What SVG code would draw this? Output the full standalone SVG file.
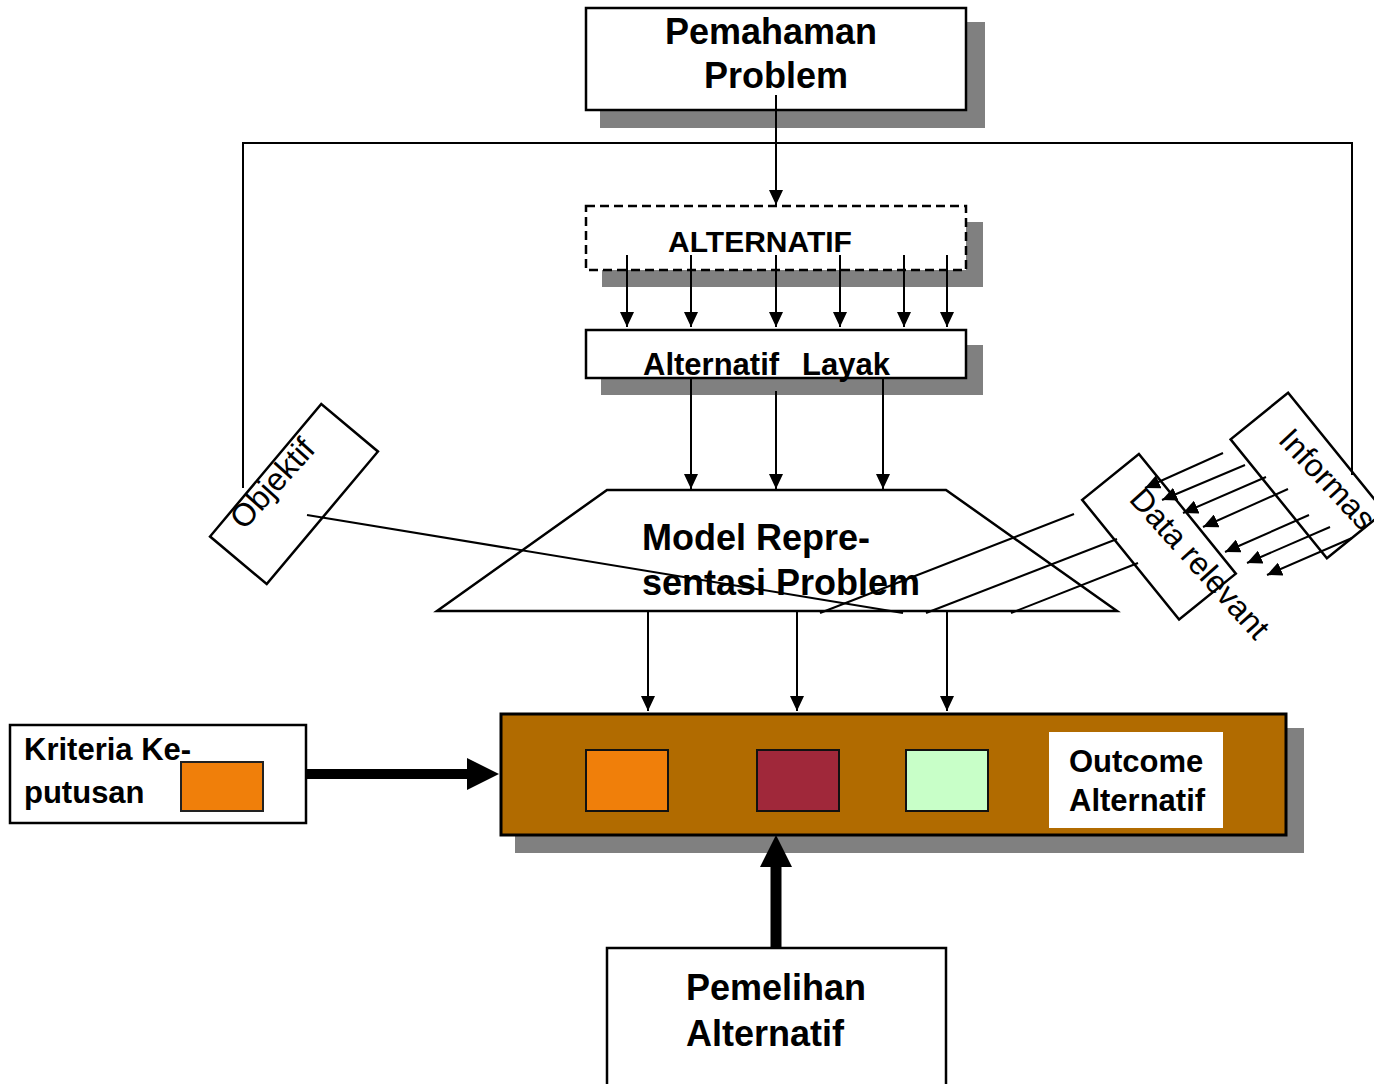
<svg xmlns="http://www.w3.org/2000/svg" width="1374" height="1084" viewBox="0 0 1374 1084">
  <style>
    .box { fill: #ffffff; stroke: #000000; stroke-width: 2.5; }
    .shadow { fill: #808080; stroke: none; }
    .lbl { font-family: "Liberation Sans", Arial, sans-serif; font-weight: bold; fill: #000000; }
    .rot { font-family: "Liberation Sans", Arial, sans-serif; font-size: 32px; fill: #000000; }
    .wire { fill: none; stroke: #000000; stroke-width: 2; }
    .arr { fill: none; stroke: #000000; stroke-width: 2; marker-end: url(#ah); }
    .fat { fill: none; stroke: #000000; }
  </style>
  <defs>
    <marker id="ah" viewBox="0 0 15 14" refX="15" refY="7" markerWidth="15" markerHeight="14" orient="auto" markerUnits="userSpaceOnUse">
      <path d="M0,0 L15,7 L0,14 z" fill="#000000"/>
    </marker>
    <marker id="bigah" viewBox="0 0 32 32" refX="0" refY="16" markerWidth="32" markerHeight="32" orient="auto" markerUnits="userSpaceOnUse">
      <path d="M0,0 L32,16 L0,32 z" fill="#000000"/>
    </marker>
  </defs>

  <rect width="1374" height="1084" fill="#ffffff"/>

  <!-- Problem understanding -->
  <g id="pemahaman">
    <rect class="shadow" x="600" y="22" width="385" height="106"/>
    <rect class="box" x="586" y="8" width="380" height="102"/>
    <text class="lbl" font-size="36" x="771" y="44" text-anchor="middle">Pemahaman</text>
    <text class="lbl" font-size="36" x="776" y="88" text-anchor="middle">Problem</text>
  </g>

  <!-- Alternatives (dashed) -->
  <g id="alternatif">
    <rect class="shadow" x="602" y="222" width="381" height="65"/>
    <rect x="586" y="206" width="380" height="64" fill="#ffffff" stroke="#000000" stroke-width="2.5" stroke-dasharray="9,5"/>
    <text class="lbl" font-size="30" x="760" y="252" text-anchor="middle">ALTERNATIF</text>
  </g>

  <!-- Feasible alternatives -->
  <g id="alternatif-layak">
    <rect class="shadow" x="601" y="345" width="382" height="50"/>
    <rect class="box" x="586" y="330" width="380" height="48"/>
    <text class="lbl" font-size="31" y="375"><tspan x="643">Alternatif</tspan><tspan x="802">Layak</tspan></text>
  </g>

  <!-- Problem representation model -->
  <g id="model">
    <path d="M607,490 L946,490 L1117,611 L437,611 z" fill="#ffffff" stroke="#000000" stroke-width="2.5"/>
    <text class="lbl" font-size="36" x="642" y="550">Model Repre-</text>
    <text class="lbl" font-size="36" x="642" y="595">sentasi Problem</text>
  </g>

  <!-- Objective -->
  <g id="objektif">
    <rect x="-86.5" y="-37" width="173" height="74" fill="#ffffff" stroke="#000000" stroke-width="2.5" transform="translate(294,494) rotate(-50)"/>
    <text class="rot" font-size="33" transform="translate(244,531) rotate(-48)">Objektif</text>
  </g>

  <!-- Information -->
  <g id="informasi">
    <rect x="-76.5" y="-37" width="153" height="74" fill="#ffffff" stroke="#000000" stroke-width="2.5" transform="translate(1307.5,475.5) rotate(51)"/>
    <text class="rot" transform="translate(1277,441) rotate(47)">Informas</text>
  </g>

  <!-- Relevant data -->
  <g id="data-relevant">
    <rect x="-77" y="-36.5" width="154" height="73" fill="#ffffff" stroke="#000000" stroke-width="2.5" transform="translate(1159,536.7) rotate(51)"/>
    <text class="rot" transform="translate(1128,500) rotate(48)">Data relevant</text>
  </g>

  <!-- Decision criteria -->
  <g id="kriteria">
    <rect class="box" x="10" y="725" width="296" height="98"/>
    <text class="lbl" font-size="31" x="24" y="760">Kriteria Ke-</text>
    <text class="lbl" font-size="31" x="24" y="803">putusan</text>
    <rect x="181" y="762" width="82" height="49" fill="#F07F0A" stroke="#222222" stroke-width="2"/>
  </g>

  <!-- Alternative outcomes -->
  <g id="outcome">
    <rect class="shadow" x="515" y="728" width="789" height="125"/>
    <rect x="501" y="714" width="785" height="121" fill="#B16B00" stroke="#000000" stroke-width="3"/>
    <rect x="586" y="750" width="82" height="61" fill="#F07F0A" stroke="#111111" stroke-width="2"/>
    <rect x="757" y="750" width="82" height="61" fill="#A0283A" stroke="#111111" stroke-width="2"/>
    <rect x="906" y="750" width="82" height="61" fill="#C8FFC8" stroke="#111111" stroke-width="2"/>
    <rect x="1049" y="732" width="174" height="96" fill="#ffffff"/>
    <text class="lbl" font-size="31" x="1069" y="772">Outcome</text>
    <text class="lbl" font-size="31" x="1069" y="811">Alternatif</text>
  </g>

  <!-- Choosing an alternative -->
  <g id="pemelihan">
    <rect class="box" x="607" y="948" width="339" height="150"/>
    <text class="lbl" font-size="36" x="686" y="1000">Pemelihan</text>
    <text class="lbl" font-size="36" x="686" y="1046">Alternatif</text>
  </g>

  <!-- Connectors -->
  <g id="connectors">
    <line class="arr" x1="776" y1="95" x2="776" y2="205"/>
    <polyline class="wire" points="243,488 243,143 1352,143 1352,475"/>

    <line class="arr" x1="627" y1="255" x2="627" y2="327"/>
    <line class="arr" x1="691" y1="255" x2="691" y2="327"/>
    <line class="arr" x1="776" y1="255" x2="776" y2="327"/>
    <line class="arr" x1="840" y1="255" x2="840" y2="327"/>
    <line class="arr" x1="904" y1="255" x2="904" y2="327"/>
    <line class="arr" x1="947" y1="255" x2="947" y2="327"/>

    <line class="arr" x1="691" y1="378" x2="691" y2="489"/>
    <line class="arr" x1="776" y1="391" x2="776" y2="489"/>
    <line class="arr" x1="883" y1="378" x2="883" y2="489"/>

    <line class="wire" x1="307" y1="515" x2="903" y2="613"/>

    <line class="arr" x1="1223" y1="453" x2="1145" y2="488"/>
    <line class="arr" x1="1245" y1="465" x2="1162" y2="500"/>
    <line class="arr" x1="1266" y1="477" x2="1183" y2="513"/>
    <line class="arr" x1="1288" y1="489" x2="1203" y2="527"/>
    <line class="arr" x1="1309" y1="515" x2="1225" y2="552"/>
    <line class="arr" x1="1330" y1="527" x2="1247" y2="563"/>
    <line class="arr" x1="1352" y1="538" x2="1267" y2="575"/>

    <line class="wire" x1="1074" y1="514" x2="820" y2="613"/>
    <line class="wire" x1="1117" y1="539" x2="926" y2="613"/>
    <line class="wire" x1="1138" y1="563" x2="1011" y2="613"/>

    <line class="arr" x1="648" y1="612" x2="648" y2="711"/>
    <line class="arr" x1="797" y1="612" x2="797" y2="711"/>
    <line class="arr" x1="947" y1="612" x2="947" y2="711"/>

    <line class="fat" stroke-width="10" x1="306" y1="774" x2="467" y2="774" marker-end="url(#bigah)"/>
    <line class="fat" stroke-width="11" x1="776" y1="947" x2="776" y2="867" marker-end="url(#bigah)"/>
  </g>
</svg>
